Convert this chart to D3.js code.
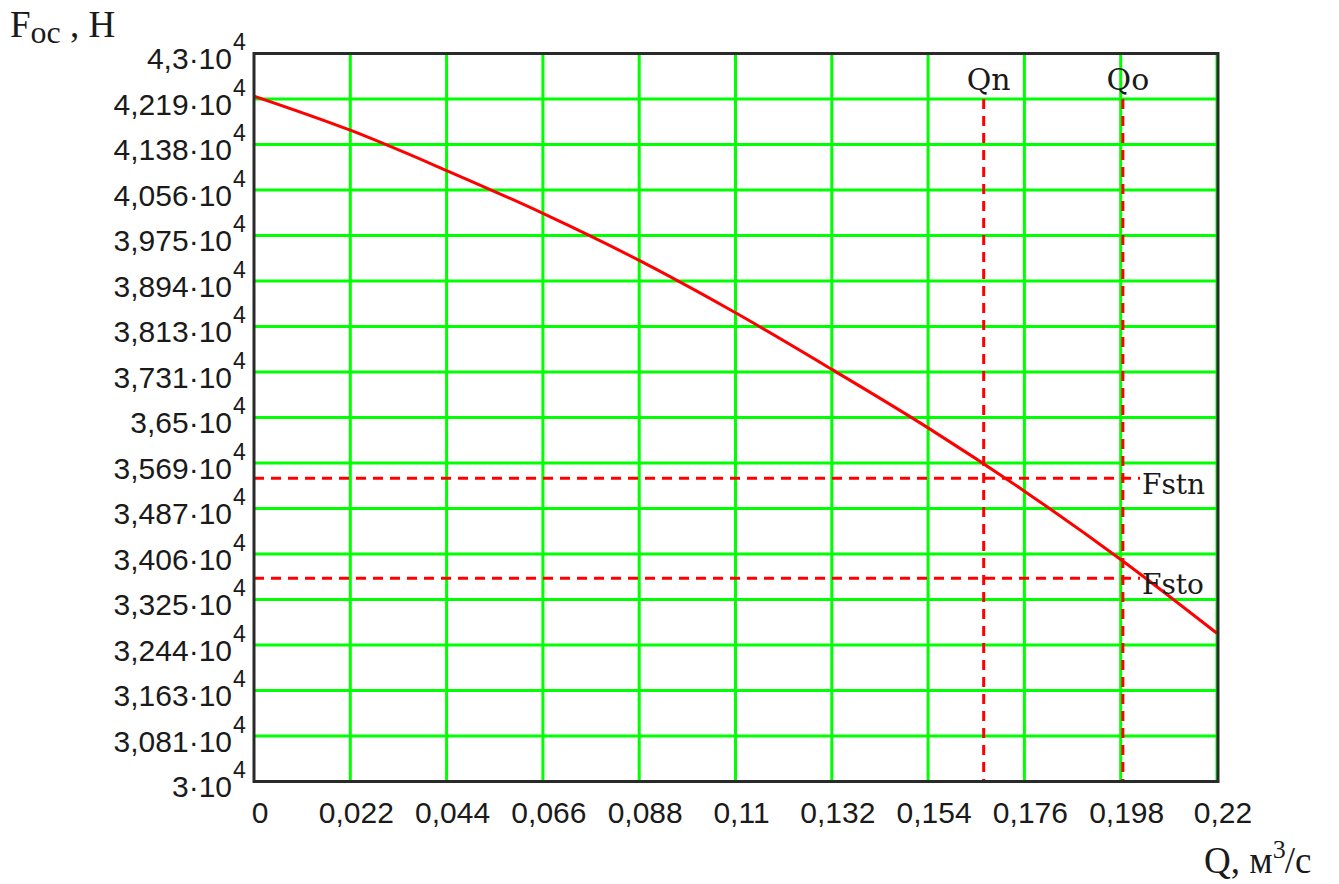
<!DOCTYPE html>
<html>
<head>
<meta charset="utf-8">
<script src="https://cdn.jsdelivr.net/npm/d3@7"></script>
<style>
  body { margin: 0; background: #fff; }
  svg { display: block; }
</style>
</head>
<body>
<div id="chart"></div>
<script>
// Q, m3/s and Foc, N
const qValues = [0, 0.022, 0.044, 0.066, 0.088, 0.11, 0.132, 0.154, 0.176, 0.198, 0.22];
const focValues = [42240, 41630, 40910, 40145, 39305, 38370, 37360, 36315, 35185, 33965, 32646];

// operating points
const qMarks = [{ name: "Qn", q: 0.1667 }, { name: "Qo", q: 0.1985 }];
const fMarks = [{ name: "Fstn", f: 35414 }, { name: "Fsto", f: 33629 }];

// ticks
const xTicks = [0, 0.022, 0.044, 0.066, 0.088, 0.11, 0.132, 0.154, 0.176, 0.198, 0.22];
const xTickLabels = ["0", "0,022", "0,044", "0,066", "0,088", "0,11", "0,132", "0,154", "0,176", "0,198", "0,22"];
const yTicks = d3.range(17).map(i => 30000 + i * 812.5);
const yTickLabels = ["3", "3,081", "3,163", "3,244", "3,325", "3,406", "3,487", "3,569", "3,65",
                     "3,731", "3,813", "3,894", "3,975", "4,056", "4,138", "4,219", "4,3"];

const W = 1339, H = 884;
const plot = { left: 254, right: 1217, top: 53.5, bottom: 781.5 };

const svg = d3.select("#chart").append("svg")
    .attr("width", W)
    .attr("height", H);

const x = d3.scaleLinear().domain([0, 0.22]).range([plot.left, plot.right]);
const y = d3.scaleLinear().domain([30000, 43000]).range([plot.bottom, plot.top]);

const sans = "'Liberation Sans', Arial, sans-serif";
const serif = "'DejaVu Serif', serif";
const times = "'Liberation Serif', serif";
const textCol = "#1a1a1a";

// grid
const grid = svg.append("g").attr("stroke", "#00ff00").attr("stroke-width", 3);
grid.selectAll(".gx")
    .data(xTicks.slice(1))
    .join("line")
    .attr("x1", d => x(d)).attr("x2", d => x(d))
    .attr("y1", plot.top).attr("y2", plot.bottom);
grid.selectAll(".gy")
    .data(yTicks.slice(1, -1))
    .join("line")
    .attr("x1", plot.left).attr("x2", plot.right)
    .attr("y1", d => y(d)).attr("y2", d => y(d));

// dashed marker lines
const dash = svg.append("g")
    .attr("stroke", "#ff0000")
    .attr("stroke-width", 3)
    .attr("stroke-dasharray", "10,7");
dash.selectAll(".qv")
    .data(qMarks)
    .join("line")
    .attr("x1", d => x(d.q)).attr("x2", d => x(d.q))
    .attr("y1", y(yTicks[15])).attr("y2", plot.bottom);
dash.selectAll(".fh")
    .data(fMarks)
    .join("line")
    .attr("x1", plot.left).attr("x2", 1140)
    .attr("y1", d => y(d.f)).attr("y2", d => y(d.f));

// curve
const line = d3.line()
    .x((d, i) => x(qValues[i]))
    .y(d => y(d))
    .curve(d3.curveMonotoneX);
svg.append("path")
    .datum(focValues)
    .attr("d", line)
    .attr("fill", "none")
    .attr("stroke", "#ff0000")
    .attr("stroke-width", 3);

// frame
svg.append("rect")
    .attr("x", plot.left).attr("y", plot.top)
    .attr("width", plot.right - plot.left + 1)
    .attr("height", plot.bottom - plot.top)
    .attr("fill", "none")
    .attr("stroke", "#2a2a2a")
    .attr("stroke-width", 3);

// marker labels
svg.selectAll(".ql")
    .data(qMarks)
    .join("text")
    .attr("x", d => x(d.q) + 5)
    .attr("y", 90)
    .attr("text-anchor", "middle")
    .attr("font-family", serif)
    .attr("font-size", 30)
    .attr("fill", textCol)
    .text(d => d.name);
svg.selectAll(".fl")
    .data(fMarks)
    .join("text")
    .attr("x", 1142)
    .attr("y", d => y(d.f) + 16)
    .attr("font-family", serif)
    .attr("font-size", 28)
    .attr("fill", textCol)
    .text(d => d.name);

// x tick labels
svg.selectAll(".xt")
    .data(xTicks)
    .join("text")
    .attr("x", d => x(d) + 6)
    .attr("y", 823)
    .attr("text-anchor", "middle")
    .attr("font-family", sans)
    .attr("font-size", 30)
    .attr("fill", textCol)
    .text((d, i) => xTickLabels[i]);

// y tick labels: mantissa·10 with superscript 4
const yl = svg.selectAll(".yt")
    .data(yTicks)
    .join("g");
yl.append("text")
    .attr("x", 232)
    .attr("y", d => y(d) + 15.5)
    .attr("text-anchor", "end")
    .attr("font-family", sans)
    .attr("font-size", 30)
    .attr("fill", textCol)
    .text((d, i) => yTickLabels[i] + "\u00B710");
yl.append("text")
    .attr("x", 233)
    .attr("y", d => y(d) - 3.5)
    .attr("font-family", sans)
    .attr("font-size", 23)
    .attr("fill", textCol)
    .text("4");

// axis titles
const yTitle = svg.append("text")
    .attr("x", 10)
    .attr("y", 37)
    .attr("font-family", times)
    .attr("font-size", 37)
    .attr("fill", textCol);
yTitle.append("tspan").text("F");
yTitle.append("tspan").attr("dy", 6).attr("font-size", 32).text("oc");
yTitle.append("tspan").attr("dy", -6).text(" , H");

const xTitle = svg.append("text")
    .attr("x", 1204)
    .attr("y", 873)
    .attr("font-family", times)
    .attr("font-size", 37)
    .attr("fill", textCol);
xTitle.append("tspan").text("Q, м");
xTitle.append("tspan").attr("dy", -15).attr("font-size", 26).text("3");
xTitle.append("tspan").attr("dy", 15).attr("dx", -1).text("/c");
</script>
</body>
</html>
